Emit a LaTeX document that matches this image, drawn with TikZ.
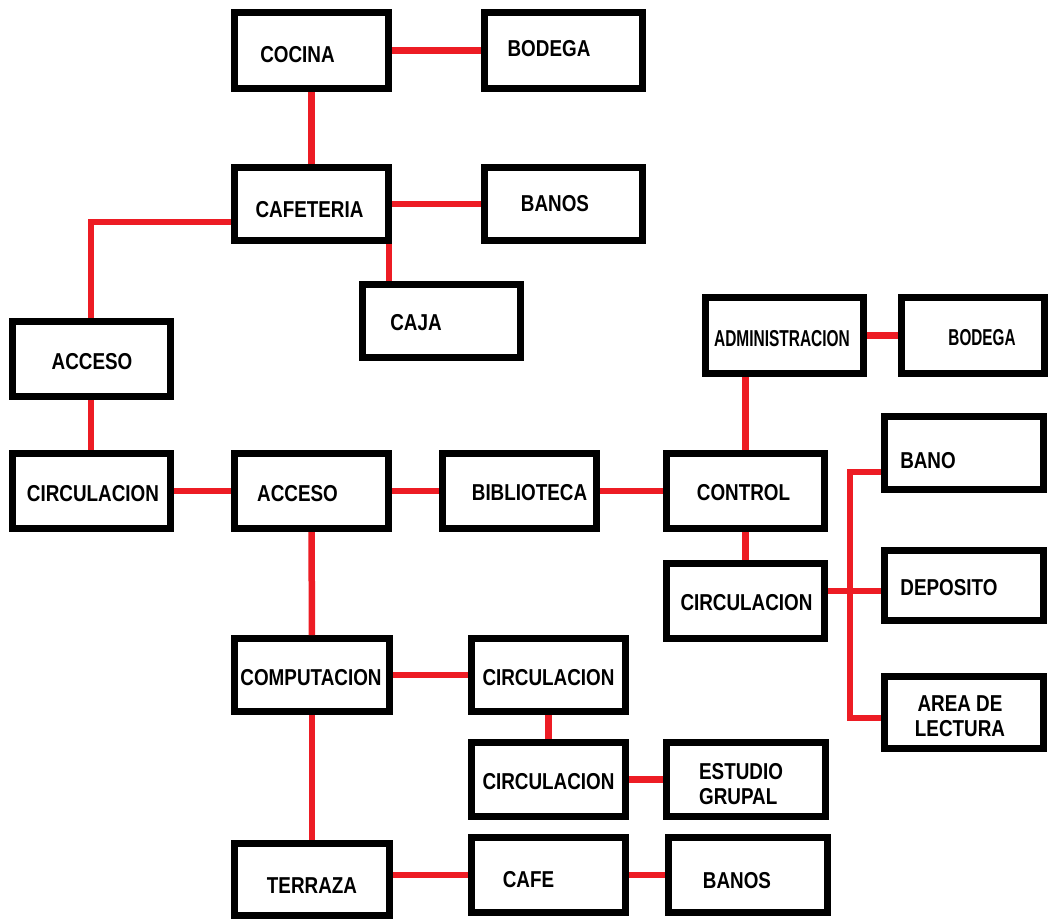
\documentclass[tikz,border=0pt]{standalone}
\usepackage{fontspec}
\usepackage{graphicx}
\newfontfamily\boxfont[FakeStretch=0.82]{Liberation Sans}
\definecolor{linkred}{RGB}{237,28,36}
\tikzset{
  box/.style={draw, line width=7pt, fill=white, minimum width=154pt, minimum height=75pt, inner sep=0pt},
  wbox/.style={box, minimum width=158pt},
  lbl/.style={font=\boxfont\bfseries\fontsize{23}{25}\selectfont, inner sep=0pt},
  link/.style={draw=linkred, line width=6.5pt}
}
\begin{document}
\begin{tikzpicture}[x=1pt,y=-1pt]
\useasboundingbox (0,0) rectangle (1048,919);
% cafeteria block
\node[box,minimum height=76pt,label={[lbl,xshift=-14pt,yshift=-4pt]center:COCINA}] (cocina) at (311.5,50.5) {};
\node[wbox,minimum height=76pt,label={[lbl,xshift=-14pt,yshift=2pt]center:BODEGA}] (bodega) at (563,50.5) {};
\node[box,minimum height=73pt,label={[lbl,xshift=-2pt,yshift=-6pt]center:CAFETERIA}] (cafeteria) at (311.5,204) {};
\node[wbox,minimum height=73pt,label={[lbl,xshift=-8pt]center:BANOS}] (banos) at (563,204) {};
\node[wbox,minimum height=73pt,label={[lbl,xshift=-25pt,yshift=-2pt]center:CAJA}] (caja) at (441,321) {};
\node[wbox,label={[lbl,xshift=1pt,yshift=-3pt]center:ACCESO}] (accesoa) at (91,359) {};
% main row
\node[wbox,label={[lbl,xshift=2pt,yshift=-3pt]center:CIRCULACION}] (circa) at (91,491) {};
\node[box,label={[lbl,xshift=-14pt,yshift=-3pt]center:ACCESO}] (accesob) at (311.5,491) {};
\node[box,label={[lbl,xshift=10pt,yshift=-2pt]center:BIBLIOTECA}] (biblioteca) at (519.5,491) {};
\node[wbox,label={[lbl,xshift=-2pt,yshift=-2pt]center:CONTROL}] (control) at (745.5,491) {};
% administracion block
\node[wbox,minimum height=76pt,label={[lbl,xshift=-2pt,yshift=-3pt]center:{\scalebox{0.82}[1]{ADMINISTRACION}}}] (admin) at (784,335.5) {};
\node[box,minimum width=143pt,minimum height=76pt,label={[lbl,xshift=9pt,yshift=-2pt]center:{\scalebox{0.81}[1]{BODEGA}}}] (bodegab) at (973,335.5) {};
\node[wbox,minimum width=159pt,minimum height=73pt,label={[lbl,xshift=-36pt,yshift=-8pt]center:BANO}] (bano) at (964,453) {};
\node[wbox,label={[lbl,xshift=1pt,yshift=-2pt]center:CIRCULACION}] (circb) at (745.5,601) {};
\node[wbox,minimum width=159pt,minimum height=70pt,label={[lbl,xshift=-15pt,yshift=-2pt]center:DEPOSITO}] (deposito) at (964,585.5) {};
\node[wbox,minimum width=159pt,minimum height=72pt,label={[lbl,align=center,xshift=-4pt,yshift=-4pt]center:AREA DE\\LECTURA}] (lectura) at (964,712.5) {};
% computacion block
\node[box,minimum width=155pt,minimum height=73pt,label={[lbl,xshift=-1pt,yshift=-3pt]center:COMPUTACION}] (computacion) at (312,675) {};
\node[box,minimum height=73pt,label={[lbl,yshift=-3pt]center:CIRCULACION}] (circc) at (548.5,675) {};
\node[box,minimum height=74pt,label={[lbl,yshift=-2pt]center:CIRCULACION}] (circd) at (548.5,779.5) {};
\node[wbox,minimum width=159pt,minimum height=74pt,label={[lbl,align=left,xshift=-5pt,yshift=-5pt]center:ESTUDIO\\GRUPAL}] (estudio) at (746,779.5) {};
\node[box,minimum width=155pt,minimum height=72pt,label={[lbl,yshift=-6pt]center:TERRAZA}] (terraza) at (312,879.5) {};
\node[box,label={[lbl,xshift=-20pt,yshift=-5pt]center:CAFE}] (cafe) at (548.5,875) {};
\node[wbox,minimum width=159pt,label={[lbl,xshift=-11pt,yshift=-6pt]center:BANOS}] (banosb) at (748,875) {};
% red links
\draw[link] (cocina) -- (bodega);
\draw[link] (cocina) -- (cafeteria);
\draw[link] (cafeteria) -- (banos);
\coordinate (cajatop) at ([xshift=-3pt]cafeteria.south east);
\draw[link] (cajatop) -- (cajatop |- caja.north);
\draw[link] ([yshift=-18pt]cafeteria.west) -| (accesoa.north);
\draw[link] (accesoa) -- (circa);
\draw[link] (circa) -- (accesob);
\draw[link] (accesob) -- (biblioteca);
\draw[link] (biblioteca) -- (control);
\draw[link] (control.north) -- (control.north |- admin.south);
\draw[link] (admin) -- (bodegab);
\draw[link] (control) -- (circb);
\coordinate (bus) at (850,591);
\draw[link] ([yshift=10pt]circb.east) -- (bus -| deposito.west);
\draw[link] ([yshift=-19pt]bano.west) -| (bus) |- ([yshift=-5.5pt]lectura.west);
\draw[link] (accesob) -- (computacion);
\draw[link] (computacion) -- (circc);
\draw[link] (circc) -- (circd);
\draw[link] (circd) -- (estudio);
\draw[link] (computacion) -- (terraza);
\draw[link] (cafe.west -| terraza.east) -- (cafe.west);
\draw[link] (cafe) -- (banosb);
\end{tikzpicture}
\end{document}
